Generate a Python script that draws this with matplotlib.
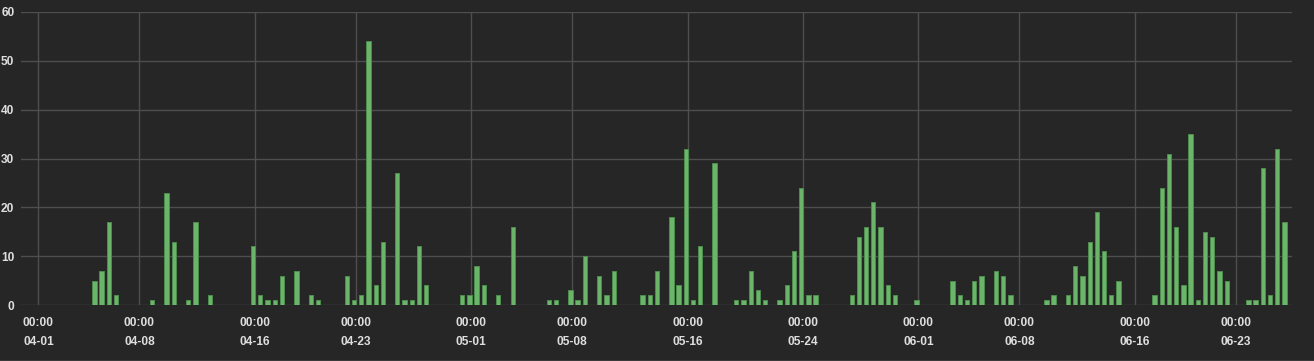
import matplotlib
matplotlib.use("Agg")
import matplotlib.pyplot as plt
import matplotlib.dates as mdates
from datetime import datetime, timedelta

YEAR = 2024
times = [
    "04-04 21", "04-05 09", "04-05 21", "04-06 09", "04-08 21", "04-09 21", "04-10 09",
    "04-11 09", "04-11 21", "04-12 21", "04-15 21", "04-16 09", "04-16 21", "04-17 09",
    "04-17 21", "04-18 21", "04-19 21", "04-20 09", "04-22 09", "04-22 21", "04-23 09",
    "04-23 21", "04-24 09", "04-24 21", "04-25 21", "04-26 09", "04-26 21", "04-27 09",
    "04-27 21", "04-30 09", "04-30 21", "05-01 09", "05-01 21", "05-02 21", "05-03 21",
    "05-06 09", "05-06 21", "05-07 21", "05-08 09", "05-08 21", "05-09 21", "05-10 09",
    "05-10 21", "05-12 21", "05-13 09", "05-13 21", "05-14 21", "05-15 09", "05-15 21",
    "05-16 09", "05-16 21", "05-17 21", "05-19 09", "05-19 21", "05-20 09", "05-20 21",
    "05-21 09", "05-22 09", "05-22 21", "05-23 09", "05-23 21", "05-24 09", "05-24 21",
    "05-27 09", "05-27 21", "05-28 09", "05-28 21", "05-29 09", "05-29 21", "05-30 09",
    "05-31 21", "06-03 09", "06-03 21", "06-04 09", "06-04 21", "06-05 09", "06-06 09",
    "06-06 21", "06-07 09", "06-09 21", "06-10 09", "06-11 09", "06-11 21", "06-12 09",
    "06-12 21", "06-13 09", "06-13 21", "06-14 09", "06-14 21", "06-17 09", "06-17 21",
    "06-18 09", "06-18 21", "06-19 09", "06-19 21", "06-20 09", "06-20 21", "06-21 09",
    "06-21 21", "06-22 09", "06-23 21", "06-24 09", "06-24 21", "06-25 09", "06-25 21",
    "06-26 09",
]
counts = [
    5, 7, 17, 2, 1, 23, 13,
    1, 17, 2, 12, 2, 1, 1,
    6, 7, 2, 1, 6, 1, 2,
    54, 4, 13, 27, 1, 1, 12,
    4, 2, 2, 8, 4, 2, 16,
    1, 1, 3, 1, 10, 6, 2,
    7, 2, 2, 7, 18, 4, 32,
    1, 12, 29, 1, 1, 7, 3,
    1, 1, 4, 11, 24, 2, 2,
    2, 14, 16, 21, 16, 4, 2,
    1, 5, 2, 1, 5, 6, 7,
    6, 2, 1, 2, 2, 8, 6,
    13, 19, 11, 2, 5, 2, 24,
    31, 16, 4, 35, 1, 15, 14,
    7, 5, 1, 1, 28, 2, 32,
    17,
]
tick_dates = ["04-01", "04-08", "04-16", "04-23", "05-01", "05-08",
              "05-16", "05-24", "06-01", "06-08", "06-16", "06-23"]
y_ticks = [0, 10, 20, 30, 40, 50, 60]

def parse(s, fmt):
    return datetime.strptime(f"{YEAR}-{s}", fmt)

xs = [parse(t, "%Y-%m-%d %H") for t in times]
ticks = [parse(t, "%Y-%m-%d") for t in tick_dates]

BG = "#262626"
GRID = "#4e4e4e"
TXT = "#dedede"

fig = plt.figure(figsize=(13.14, 3.61), dpi=100, facecolor=BG)
ax = fig.add_axes([20.7 / 1314, 56 / 361, (1291.7 - 20.7) / 1314, 293 / 361])
ax.set_facecolor(BG)

ax.bar(xs, counts, width=0.30, color="#6ab56a", edgecolor="#4e8c4e", linewidth=0.7, zorder=3)

start = ticks[0]
ax.set_xlim(start - timedelta(days=1.234), start + timedelta(days=86.88))
ax.set_ylim(0, 60)
ax.set_yticks(y_ticks)
ax.set_xticks(ticks)
ax.set_xticklabels([f"00:00\n{t}" for t in tick_dates], linespacing=1.8)

for s in ax.spines.values():
    s.set_visible(False)
ax.grid(True, color=GRID, linewidth=1.0, zorder=0)
ax.tick_params(axis="both", length=0, colors=TXT, labelsize=8.6)
ax.tick_params(axis="y", pad=4.5)
ax.tick_params(axis="x", pad=8.5)
for lab in ax.get_xticklabels() + ax.get_yticklabels():
    lab.set_fontfamily("Liberation Sans")
    lab.set_fontweight("bold")
    lab.set_color(TXT)

fig.add_artist(plt.Line2D([0, 1], [0.5 / 361, 0.5 / 361], color="#3a3a3a", linewidth=1.5))

fig.savefig("out.png", dpi=100, facecolor=BG)
